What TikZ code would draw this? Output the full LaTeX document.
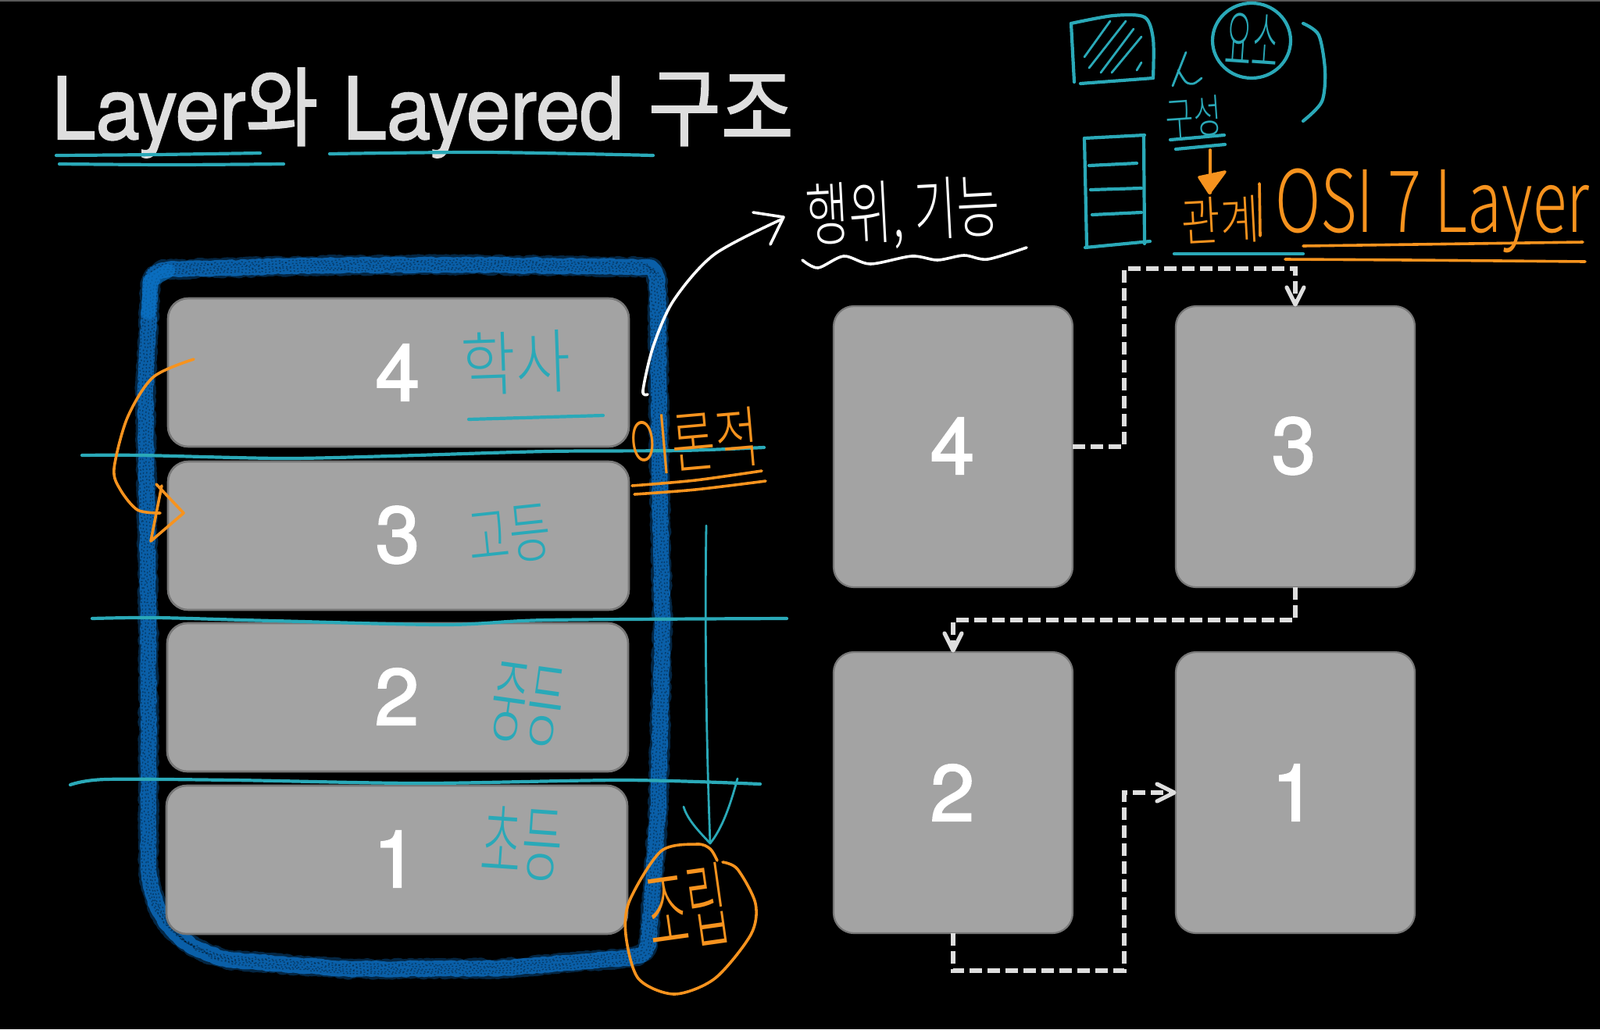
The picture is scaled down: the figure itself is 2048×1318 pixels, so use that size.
\documentclass[tikz,border=0pt]{standalone}
\usepackage{fontspec}
\usepackage{graphicx}
\usetikzlibrary{arrows.meta,decorations.pathmorphing,calc}
\setmainfont{TeX Gyre Heros}
\newfontfamily\krfont[UprightFont={* Light}]{Noto Sans CJK KR}
\newfontfamily\titlelat[FakeBold=1.8]{TeX Gyre Heros}
\newfontfamily\titlekr[FakeBold=1.8]{Noto Sans CJK KR}
\newfontfamily\digitfont[FakeBold=2]{TeX Gyre Heros}
\definecolor{tealink}{HTML}{2AA9B8}
\definecolor{orangeink}{HTML}{F7931E}
\definecolor{whiteink}{HTML}{FFFFFF}
\definecolor{boxfill}{HTML}{A3A3A3}
\definecolor{boxline}{HTML}{777777}
\definecolor{dashcol}{HTML}{DEDEDE}
\definecolor{brush}{HTML}{0A5FA8}
\definecolor{brushhi}{HTML}{0B7AD1}
\newcommand{\hw}[3]{\resizebox*{#1pt}{#2pt}{\krfont\fontsize{#2}{#2}\selectfont #3}}
\tikzset{
  lbox/.style={draw=boxline,fill=boxfill,line width=1.3pt,rounded corners=13pt,minimum width=295pt,minimum height=95pt,inner sep=0pt,outer sep=0pt},
  rbox/.style={draw=boxline,fill=boxfill,line width=1.1pt,rounded corners=13pt,minimum width=153pt,minimum height=180pt,inner sep=0pt,outer sep=0pt},
  digit/.style={text=white,font=\digitfont\fontsize{51}{51}\selectfont,inner sep=0pt},
  hand/.style={text=#1,inner sep=0pt,outer sep=0pt},
  tk/.style={draw=tealink,line width=2.1pt,line cap=round,line join=round},
  tkthin/.style={draw=tealink,line width=1.4pt,line cap=round,line join=round},
  ok/.style={draw=orangeink,line width=1.8pt,line cap=round,line join=round},
  wk/.style={draw=whiteink,line width=1.8pt,line cap=round,line join=round},
  flow/.style={draw=dashcol,line width=2.6pt,dash pattern=on 8pt off 3.5pt},
  flowhead/.style={draw=dashcol,line width=2.6pt,line join=round,line cap=round},
  brushline/.style={draw=brush,line width=10pt,line cap=round,line join=round,decorate,decoration={random steps,segment length=2pt,amplitude=0.5pt}},
  brushfuzz/.style={draw=brush,opacity=.4,line width=12pt,line cap=round,line join=round,decorate,decoration={random steps,segment length=1.2pt,amplitude=1pt}},
  brushgrain/.style={draw=black,opacity=.35,line width=.7pt,dash pattern=on 1pt off 1.4pt,decorate,decoration={random steps,segment length=1.7pt,amplitude=.8pt}},
}
\begin{document}
\begin{tikzpicture}[x=0.5pt,y=-0.5pt]
\useasboundingbox (0,0) rectangle (2048,1318);
\fill[black] (0,0) rectangle (2048,1318);
\fill[black!65] (0,0) rectangle (2048,2);

% title
\node[anchor=base west,inner sep=0pt,text=dashcol] (title) at (66,178)
  {\scalebox{.92}[1]{\fontsize{55}{55}\selectfont{\titlelat Layer}{\titlekr 와}\hspace{17pt}{\titlelat Layered}\hspace{17pt}{\titlekr 구조}}};
\draw[tk] plot[smooth] coordinates {(72,199) (200,198) (333,196)};
\draw[tk] plot[smooth] coordinates {(76,210) (220,211) (363,210)};
\draw[tk] plot[smooth] coordinates {(422,197) (620,195) (836,199)};

% brush frame
\def\framepath{(215,345) -- (400,340) -- (600,339) -- (825,342) .. controls (838,342) and (842,350) .. (842,380) -- (844,600) -- (848,800) -- (842,1050) -- (830,1205) .. controls (828,1222) and (820,1225) .. (800,1227) -- (640,1240) -- (450,1241) -- (300,1230) .. controls (240,1220) and (195,1185) .. (190,1110) -- (190,800) -- (186,500) -- (192,375) .. controls (192,352) and (200,346) .. (215,345)}
\draw[brushfuzz] \framepath;
\draw[brushline] \framepath;
\foreach \s in {-4,-2,0,2,4}{
  \begin{scope}[shift={(\s*2,\s*1.5)}]
  \draw[brushgrain] \framepath;
  \end{scope}
}
\draw[draw=brushhi,line width=9pt,line cap=round,opacity=.55] (190,400) -- (192,360) -- (215,347);

% left stack
\node[lbox] (l4) at (510,477) {};
\node[lbox] (l3) at (510,686) {};
\node[lbox] (l2) at (509,893) {};
\node[lbox] (l1) at (508,1101) {};
\node[digit] (n4) at (509,477) {4};
\node[digit] (n3) at (509,685) {3};
\node[digit] (n2) at (508,892) {2};
\node[digit] (n1) at (506,1100) {1};

% right grid
\node[rbox] (r4) at (1220,572) {};
\node[rbox] (r3) at (1658,572) {};
\node[rbox] (r2) at (1220,1015) {};
\node[rbox] (r1) at (1658,1015) {};
\node[digit] (m4) at (1219,571) {4};
\node[digit] (m3) at (1656,571) {3};
\node[digit] (m2) at (1219,1015) {2};
\node[digit] (m1) at (1656,1015) {1};

% connectors
\coordinate (c1) at (1439,344);
\coordinate (c2) at (1439,794);
\coordinate (c3) at (1439,1243);
\coordinate (c4) at (1439,1015);
\draw[flow] (r4.east) -- (r4.east -| c1) -- (c1) -- (c1 -| r3.north) -- ($(r3.north)+(0,-8)$);
\draw[flow] (r3.south) -- (r3.south |- c2) -- (c2 -| r2.north) -- ($(r2.north)+(0,-8)$);
\draw[flow] (r2.south) -- (r2.south |- c3) -- (c3) -- (c4) -- ($(r1.west)+(-8,0)$);
\draw[flowhead] ($(r3.north)+(-11,-24)$) -- ($(r3.north)+(0,-2)$) -- ($(r3.north)+(11,-24)$);
\draw[flowhead] ($(r2.north)+(-11,-24)$) -- ($(r2.north)+(0,-2)$) -- ($(r2.north)+(11,-24)$);
\draw[flowhead] ($(r1.west)+(-24,-11)$) -- ($(r1.west)+(-2,0)$) -- ($(r1.west)+(-24,11)$);

% teal rules across the stack
\draw[tk] plot[smooth] coordinates {(105,583) (180,583) (360,587) (500,584) (700,578) (870,577) (978,573)};
\draw[tk] plot[smooth] coordinates {(118,792) (200,791) (350,795) (570,800) (700,794) (1007,792)};
\draw[tk] plot[smooth] coordinates {(90,1005) (135,998) (300,999) (540,1003) (800,999) (973,1004)};

% teal notes on the boxes
\node[hand=tealink,rotate=2] (t4) at (660,464) {\hw{70}{40}{학사}};
\draw[tk] (600,537) -- (772,532);
\node[hand=tealink,rotate=6] (t3) at (652,685) {\hw{53}{36}{고등}};
\node[hand=tealink,rotate=-8] (t2) at (675,902) {\hw{46}{50}{중등}};
\node[hand=tealink,rotate=-4] (t1) at (668,1080) {\hw{52}{46}{초등}};

% curved orange arrow
\draw[ok] plot[smooth] coordinates {(248,460) (196,483) (163,535) (146,600) (154,627) (176,653) (205,657)};
\draw[ok] (200,620) -- (235,657) -- (193,693) -- (207,622);

% theory note
\node[hand=orangeink,rotate=5] (theory) at (888,565) {\hw{84}{38}{이론적}};
\draw[ok] plot[smooth] coordinates {(809,622) (890,615) (975,603)};
\draw[ok] plot[smooth] coordinates {(812,633) (890,627) (980,616)};

% vertical arrow
\coordinate (va) at (904,673);
\coordinate (vb) at (909,1080);
\draw[tkthin] (va) .. controls (902,800) and (904,950) .. (vb);
\draw[tkthin] (875,1033) .. controls (880,1050) and (895,1065) .. (vb) .. controls (925,1060) and (935,1030) .. (944,997);

% assembly note
\draw[ok] plot[smooth] coordinates {(918,1102) (909,1087) (892,1081) (846,1090) (806,1153) (801,1197) (817,1253) (863,1273) (915,1253) (961,1197) (967,1157) (944,1113) (925,1104)};
\node[hand=orangeink,rotate=8] (assy) at (880,1162) {\hw{52}{52}{조립}};

% white note and arrow
\node[hand=whiteink,rotate=3] (act) at (1156,274) {\hw{124}{44}{행위, 기능}};
\draw[wk] plot[smooth] coordinates {(1027,333) (1047,343) (1080,328) (1114,338) (1167,328) (1200,333) (1234,327) (1264,332) (1314,317)};
\draw[wk] plot[smooth] coordinates {(829,505) (823,500) (836,444) (862,385) (914,326) (1000,281)};
\draw[wk] (964,272) -- (1003,278) -- (986,313);

% top right: hatched box
\draw[tk] plot[smooth] coordinates {(1371,30) (1425,20) (1465,22) (1476,50) (1476,100)};
\draw[tk] (1371,30) -- (1375,105);
\draw[tk] (1383,107) -- (1476,100);
\draw[tkthin] (1421,27) -- (1388,73);
\draw[tkthin] (1441,27) -- (1394,87);
\draw[tkthin] (1451,37) -- (1409,93);
\draw[tkthin] (1461,47) -- (1423,93);
\draw[tkthin] (1461,80) -- (1455,90);
\draw[tkthin] (1518,67) -- (1501,110);
\draw[tkthin] plot[smooth] coordinates {(1508,90) (1518,105) (1528,107) (1538,100)};
\draw[tk] (1602,52) ellipse [x radius=50,y radius=48];
\node[hand=tealink,rotate=-4] (elem) at (1603,52) {\hw{34}{34}{요소}};
\draw[tk] plot[smooth] coordinates {(1668,30) (1688,45) (1696,90) (1692,130) (1668,155)};
\node[hand=tealink,rotate=4] (comp) at (1528,150) {\hw{36}{26}{구성}};
\draw[tk] (1498,179) -- (1567,173);
\draw[tk] (1505,191) -- (1568,185);

% top right: ladder
\draw[tk] (1388,177) -- (1465,173);
\draw[tk] (1464,173) -- (1465,312);
\draw[tk] (1388,177) -- (1391,315);
\draw[tk] (1389,317) -- (1472,309);
\draw[tk] (1394,212) -- (1455,209);
\draw[tk] (1396,243) -- (1461,241);
\draw[tk] (1398,275) -- (1461,272);

% top right: relation and OSI note
\draw[ok] (1549,192) -- (1549,247);
\draw[ok,fill=orangeink] (1535,227) -- (1568,220) -- (1548,247) -- cycle;
\node[hand=orangeink,rotate=3] (rel) at (1562,282) {\hw{50}{30}{관계}};
\draw[ok] (1612,235) -- (1613,302);
\draw[tk] (1503,325) -- (1668,325);
\node[hand=orangeink,anchor=west] (osi) at (1632,270) {\resizebox*{201pt}{54pt}{\krfont\fontsize{50}{50}\selectfont OSI 7 Layer}};
\draw[ok] (1668,315) -- (2026,310);
\draw[ok] plot[smooth] coordinates {(1645,332) (1802,333) (2029,335)};
\end{tikzpicture}
\end{document}
